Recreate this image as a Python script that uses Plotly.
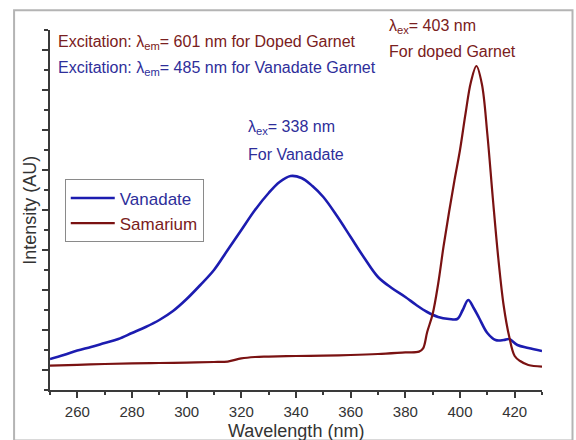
import plotly.graph_objects as go

# Excitation spectra (arbitrary intensity units)
vanadate_wl = [250, 255, 260, 265, 270, 275, 280, 285, 290, 295, 300, 305, 310, 315,
               320, 325, 330, 334, 338, 342, 346, 350, 355, 360, 365, 370, 375, 380,
               384, 388, 392, 396, 399, 401, 403, 405, 407, 410, 413, 416, 418, 421,
               425, 430]
vanadate_int = [1.55, 1.75, 1.97, 2.15, 2.35, 2.55, 2.85, 3.15, 3.5, 3.95, 4.55, 5.25,
                6.0, 7.0, 8.0, 9.0, 9.85, 10.4, 10.7, 10.6, 10.2, 9.65, 8.7, 7.65, 6.6,
                5.65, 5.1, 4.65, 4.25, 3.9, 3.65, 3.55, 3.55, 4.0, 4.5, 4.1, 3.6, 2.85,
                2.5, 2.5, 2.55, 2.25, 2.1, 1.95]

samarium_wl = [250, 260, 270, 280, 290, 300, 310, 315, 320, 325, 330, 340, 350, 360,
               370, 380, 385, 386.5, 388, 390, 392, 394, 396, 398, 400, 402, 404, 406,
               408, 410, 412, 414, 416, 418, 420, 422, 425, 430]
samarium_int = [1.22, 1.26, 1.3, 1.33, 1.35, 1.37, 1.4, 1.42, 1.58, 1.65, 1.67, 1.7,
                1.72, 1.75, 1.8, 1.88, 1.92, 2.08, 2.9, 3.8, 5.3, 7.2, 8.9, 10.5, 12.0,
                13.8, 15.4, 16.2, 15.3, 12.8, 9.6, 6.6, 4.2, 2.67, 1.7, 1.45, 1.25, 1.17]

x_ticks = [260, 280, 300, 320, 340, 360, 380, 400, 420]

blue = "#1c1cb0"
red = "#7a1212"
axis_col = "#3a3a3a"

fig = go.Figure()
fig.add_trace(go.Scatter(
    x=vanadate_wl, y=vanadate_int, mode="lines", line_shape="spline",
    name='<span style="color:#2e2e9a">Vanadate</span>',
    line=dict(color=blue, width=2.6)))
fig.add_trace(go.Scatter(
    x=samarium_wl, y=samarium_int, mode="lines", line_shape="spline",
    name='<span style="color:#7a2020">Samarium</span>',
    line=dict(color=red, width=2.2)))

font_main = "Liberation Sans, Arial, sans-serif"

annots = [
    dict(x=0.012, y=0.965, text="Excitation: λ<sub>em</sub>= 601 nm for Doped Garnet",
         color="#7a2020"),
    dict(x=0.012, y=0.893, text="Excitation: λ<sub>em</sub>= 485 nm for Vanadate Garnet",
         color="#2e2e9a"),
    dict(x=0.685, y=1.01, text="λ<sub>ex</sub>= 403 nm", color="#7a2020"),
    dict(x=0.685, y=0.94, text="For doped Garnet", color="#7a2020"),
    dict(x=0.398, y=0.73, text="λ<sub>ex</sub>= 338 nm", color="#2e2e9a"),
    dict(x=0.398, y=0.655, text="For Vanadate", color="#2e2e9a"),
]
for a in annots:
    fig.add_annotation(x=a["x"], y=a["y"], xref="paper", yref="paper",
                       text=a["text"], showarrow=False, xanchor="left",
                       yanchor="middle",
                       font=dict(family=font_main, size=16, color=a["color"]))

# axis titles
fig.add_annotation(x=0.5, y=-0.113, xref="paper", yref="paper",
                   text="Wavelength (nm)", showarrow=False,
                   xanchor="center", yanchor="middle",
                   font=dict(family=font_main, size=18, color="#333333"))
fig.add_annotation(x=-0.041, y=0.5, xref="paper", yref="paper",
                   text="Intensity (AU)", showarrow=False, textangle=-90,
                   xanchor="center", yanchor="middle",
                   font=dict(family=font_main, size=18, color="#333333"))

# outer frame around the whole figure
fig.add_shape(type="rect", xref="paper", yref="paper",
              x0=-0.073, x1=1.062, y0=-0.14, y1=1.055,
              line=dict(color="#b4b4b4", width=2), layer="below")

fig.update_layout(
    width=576, height=440,
    margin=dict(l=50, r=34, t=30, b=50),
    paper_bgcolor="white", plot_bgcolor="white",
    font=dict(family=font_main, size=16, color="#333333"),
    showlegend=True,
    legend=dict(x=0.03, y=0.585, xanchor="left", yanchor="top",
                bgcolor="white", bordercolor="#8a8a8a", borderwidth=1,
                font=dict(size=17), itemwidth=44, tracegroupgap=0),
    xaxis=dict(range=[250, 430], tickvals=x_ticks, ticks="outside",
               ticklen=6, tickwidth=1.5, tickcolor=axis_col,
               ticklabelstandoff=1, automargin=False,
               minor=dict(dtick=10, tick0=250, ticks="outside", ticklen=3,
                          tickwidth=1.5, tickcolor=axis_col),
               showline=True, linecolor=axis_col, linewidth=1.8,
               showgrid=False, zeroline=False,
               tickfont=dict(size=15, color="#333333")),
    yaxis=dict(range=[0, 18], tick0=1, dtick=2, ticks="outside",
               ticklen=6, tickwidth=1.5, tickcolor=axis_col,
               automargin=False,
               minor=dict(dtick=1, tick0=0, ticks="outside", ticklen=4,
                          tickwidth=1.5, tickcolor=axis_col),
               showticklabels=False,
               showline=True, linecolor=axis_col, linewidth=1.8,
               showgrid=False, zeroline=False),
)

fig.write_html("out.html")
